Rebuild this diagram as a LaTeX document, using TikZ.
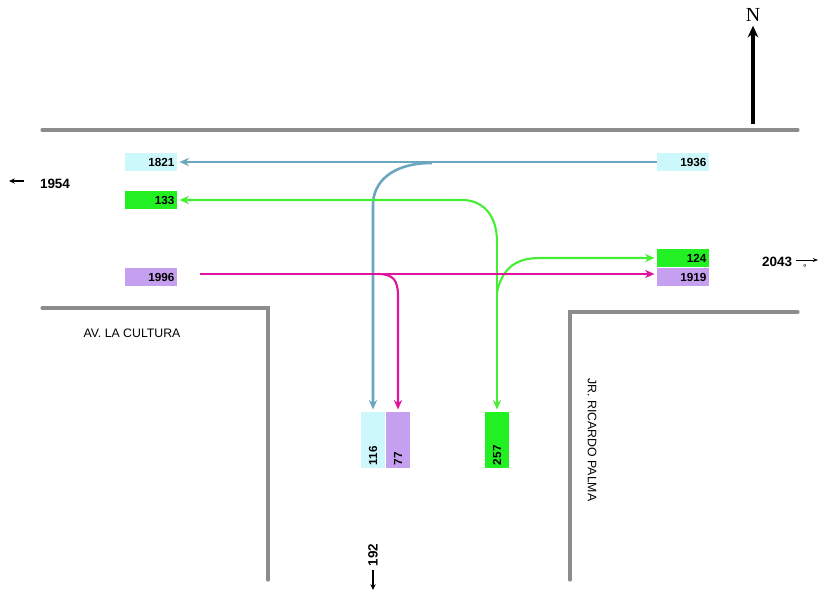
\documentclass[tikz,border=0pt]{standalone}
\usepackage{fontspec}
\setmainfont{Liberation Sans}
\newfontfamily\serifN{Liberation Serif}
\usepackage{tikz}
\usetikzlibrary{arrows.meta}
\definecolor{roadgray}{HTML}{8C8C8C}
\definecolor{cyanbox}{HTML}{CCF8FC}
\definecolor{greenbox}{HTML}{22F022}
\definecolor{purplebox}{HTML}{C6A0F0}
\definecolor{blueflow}{HTML}{6AA6BE}
\definecolor{greenflow}{HTML}{44EE33}
\definecolor{magentaflow}{HTML}{E0149C}
\tikzset{
  road/.style={line width=2.6pt, roadgray, line cap=round},
  volbox/.style={rectangle, minimum width=1.56cm, minimum height=0.56cm, text width=1.4cm,
    align=right, inner sep=2pt, font=\fontsize{10}{11}\selectfont\bfseries},
  volboxv/.style={rectangle, rotate=90, minimum width=1.68cm, minimum height=0.72cm, text width=1.5cm,
    align=left, inner sep=2pt, font=\fontsize{10}{11}\selectfont\bfseries},
  flow/.style={line width=2.2pt, -{Stealth[length=8pt,width=7pt]}, shorten >=2pt},
  total/.style={font=\fontsize{11.5}{13}\selectfont\bfseries},
  street/.style={font=\fontsize{10.5}{12}\selectfont}
}
\begin{document}
\begin{tikzpicture}[x=0.03cm, y=-0.03cm]
    \useasboundingbox (0,0) rectangle (821,594);

    % Roads
    \draw[road] (42,130) -- (798,130);
    \draw[road] (42,308) -- (268,308) -- (268,580);
    \draw[road] (798,312) -- (570,312) -- (570,580);

    % North
    \coordinate (nfoot) at (753,124);
    \node[font=\serifN\fontsize{17}{19}\selectfont] (north) at (753,15) {N};
    \draw[line width=3pt, -{Stealth[length=10pt,width=9pt]}] (nfoot) -- (north.south);

    % Boxes
    \node[volbox, fill=cyanbox] (c1821) at (151,162) {1821};
    \node[volbox, fill=cyanbox] (c1936) at (683,162) {1936};
    \node[volbox, fill=greenbox] (g133) at (151,200) {133};
    \node[volbox, fill=purplebox] (p1996) at (151,277) {1996};
    \node[volbox, fill=greenbox] (g124) at (683,258) {124};
    \node[volbox, fill=purplebox] (p1919) at (683,277) {1919};
    \node[volboxv, fill=cyanbox] (c116) at (373,440) {116};
    \node[volboxv, fill=purplebox] (p77) at (398,440) {77};
    \node[volboxv, fill=greenbox] (g257) at (497,440) {257};

    % Flows
    \draw[flow, blueflow] (c1936.west) -- (c1821.east);
    \coordinate (bturn) at (432,163);
    \draw[flow, blueflow] (bturn) .. controls (392,163) and (373,182) .. (373,205) -- (c116.east);

    \coordinate (gturn) at (497,242);
    \draw[flow, greenflow, line width=1.8pt] (gturn) .. controls (497,214) and (482,200) .. (462,200) -- (g133.east);
    \draw[flow, greenflow, line width=1.8pt] (gturn) -- (g257.east);
    \coordinate (gleft) at (497,292);
    \draw[flow, greenflow, line width=1.8pt] (gleft) .. controls (503,266) and (518,258) .. (540,258) -- (g124.west);

    \coordinate (mstart) at (200,274);
    \coordinate (mturn) at (378,274);
    \draw[flow, magentaflow] (mstart) -- (p1919.west |- mstart);
    \draw[flow, magentaflow, line width=1.8pt] (mturn) .. controls (393,274) and (398,280) .. (398,296) -- (p77.east);

    % Totals
    \node[total] (t1954) at (55,184) {1954};
    \coordinate (w1954) at (9,181);
    \draw[line width=1pt, -{Stealth[length=5pt,width=4.5pt]}] (24,181) -- (w1954);
    \node[total] (t2043) at (777,262) {2043};
    \coordinate (e2043) at (818,260);
    \draw[line width=0.6pt, -{Stealth[length=4.5pt]}] (796,260) -- (e2043);
    \node[font=\fontsize{6}{7}\selectfont] (deg) at (805,267) {º};
    \node[total, rotate=90] (t192) at (373,555) {192};
    \coordinate (s192) at (373,590);
    \draw[line width=1pt, -{Stealth[length=5pt,width=4.5pt]}] (t192.west) -- (s192);

    % Street names
    \node[street] (avcultura) at (132,333) {AV. LA CULTURA};
    \node[street, rotate=-90] (jrpalma) at (592,440) {JR. RICARDO PALMA};
\end{tikzpicture}
\end{document}
